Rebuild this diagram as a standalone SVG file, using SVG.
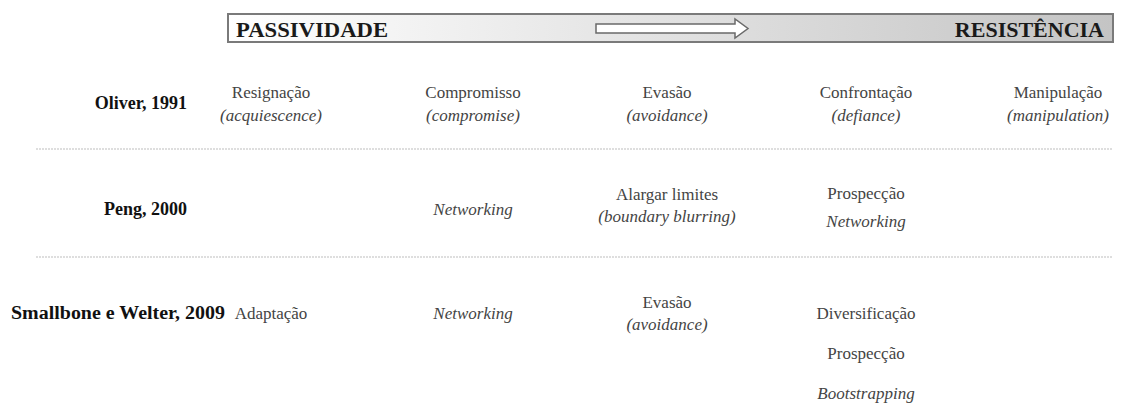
<svg xmlns="http://www.w3.org/2000/svg" width="1122" height="403" viewBox="0 0 1122 403">
<style>
.hdr{font-family:"Liberation Serif",serif;font-weight:bold;font-size:22px;fill:#1a1a1a}
.lbl{font-family:"Liberation Serif",serif;font-weight:bold;font-size:18px;fill:#111;text-anchor:end}
.c{font-family:"Liberation Serif",serif;font-size:17px;fill:#444;text-anchor:middle}
.i{font-style:italic}
.sep{stroke:#bdbdbd;stroke-width:1.2;stroke-dasharray:2 1;fill:none}
</style>
<defs>
<linearGradient id="bar" x1="0" y1="0" x2="1" y2="0">
<stop offset="0" stop-color="#ffffff"/>
<stop offset="1" stop-color="#c4c4c4"/>
</linearGradient>
</defs>
<g id="scale">
<rect x="228" y="14" width="885" height="28" fill="url(#bar)" stroke="#7a7a7a" stroke-width="2"/>
<polygon points="596,24 735,24 735,19 748,28.5 735,38 735,33 596,33" fill="#ffffff" stroke="#6a6a6a" stroke-width="1.5"/>
<text class="hdr" x="236" y="37" textLength="152" lengthAdjust="spacingAndGlyphs">PASSIVIDADE</text>
<text class="hdr" x="1104" y="37" text-anchor="end">RESISTÊNCIA</text>
</g>
<g id="connectors">
<line class="sep" x1="36" y1="149" x2="1113" y2="149"/>
<line class="sep" x1="36" y1="257" x2="1113" y2="257"/>
</g>
<g id="row-oliver">
<text class="lbl" x="187" y="109">Oliver, 1991</text>
<text class="c" x="271" y="98">Resignação</text>
<text class="c i" x="271" y="121">(acquiescence)</text>
<text class="c" x="473" y="98">Compromisso</text>
<text class="c i" x="473" y="121">(compromise)</text>
<text class="c" x="667" y="98">Evasão</text>
<text class="c i" x="667" y="121">(avoidance)</text>
<text class="c" x="866" y="98">Confrontação</text>
<text class="c i" x="866" y="121">(defiance)</text>
<text class="c" x="1058" y="98">Manipulação</text>
<text class="c i" x="1058" y="121">(manipulation)</text>
</g>
<g id="row-peng">
<text class="lbl" x="187" y="215">Peng, 2000</text>
<text class="c i" x="473" y="215">Networking</text>
<text class="c" x="667" y="200">Alargar limites</text>
<text class="c i" x="667" y="222">(boundary blurring)</text>
<text class="c" x="866" y="199">Prospecção</text>
<text class="c i" x="866" y="227">Networking</text>
</g>
<g id="row-smallbone">
<text class="lbl" x="225" y="319" textLength="214" lengthAdjust="spacingAndGlyphs">Smallbone e Welter, 2009</text>
<text class="c" x="271" y="319">Adaptação</text>
<text class="c i" x="473" y="319">Networking</text>
<text class="c" x="667" y="308">Evasão</text>
<text class="c i" x="667" y="330">(avoidance)</text>
<text class="c" x="866" y="319">Diversificação</text>
<text class="c" x="866" y="359">Prospecção</text>
<text class="c i" x="866" y="399">Bootstrapping</text>
</g>
</svg>
